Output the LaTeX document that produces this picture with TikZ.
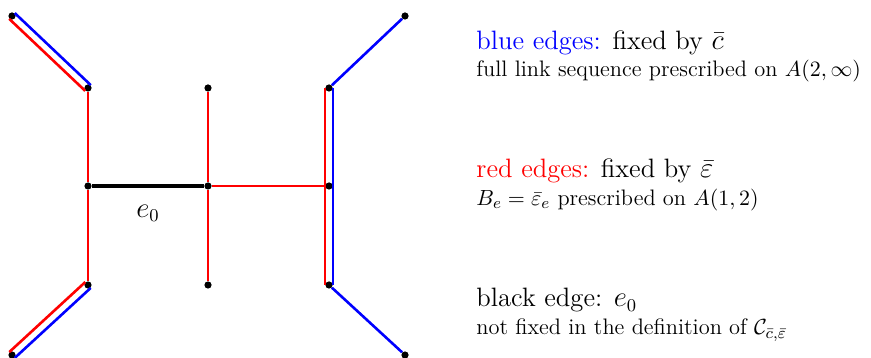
\documentclass[tikz,border=0pt]{standalone}
\usepackage{amsmath}
\usetikzlibrary{calc}

\begin{document}
\begin{tikzpicture}[
  x=0.5pt, y=0.5pt,
  vtx/.style={circle, fill, inner sep=0pt, minimum size=3.6pt},
  edge/.style={line width=1.3pt},
  heading/.style={anchor=base west, inner sep=0pt, font=\fontsize{13.3}{16}\selectfont},
  note/.style={anchor=base west, inner sep=0pt, font=\fontsize{11.2}{13}\selectfont}
]
\useasboundingbox (0,0) rectangle (871,358);
% vertices of the graph
\node[vtx] (tl) at (12,342) {};
\node[vtx] (l1) at (88,270) {};
\node[vtx] (l2) at (88,172) {};
\node[vtx] (l3) at (88,73) {};
\node[vtx] (bl) at (12,3) {};
\node[vtx] (m1) at (208,270) {};
\node[vtx] (m2) at (208,172) {};
\node[vtx] (m3) at (208,73) {};
\node[vtx] (r1) at (329,270) {};
\node[vtx] (r2) at (329,172) {};
\node[vtx] (r3) at (329,73) {};
\node[vtx] (tr) at (405,342) {};
\node[vtx] (br) at (405,3) {};

% red edges
\draw[edge, red] (l1) -- (l2) -- (l3);
\draw[edge, red] (m1) -- (m2) -- (m3);
\draw[edge, red] (m2) -- (r2);
% doubled edges (red and blue side by side)
\draw[edge, blue] ($(tl)!2pt!90:(l1)$) -- ($(l1)!2pt!-90:(tl)$);
\draw[edge, red] ($(tl)!2pt!-90:(l1)$) -- ($(l1)!2pt!90:(tl)$);
\draw[edge, red] ($(l3)!2pt!-90:(bl)$) -- ($(bl)!2pt!90:(l3)$);
\draw[edge, blue] ($(l3)!2pt!90:(bl)$) -- ($(bl)!2pt!-90:(l3)$);
\draw[edge, red] ($(r1)!2pt!-90:(r3)$) -- ($(r3)!2pt!90:(r1)$);
\draw[edge, blue] ($(r1)!2pt!90:(r3)$) -- ($(r3)!2pt!-90:(r1)$);
% blue edges
\draw[edge, blue] (r1) -- (tr);
\draw[edge, blue] (r3) -- (br);
% black edge
\draw[line width=1.9pt] (l2) -- (m2);
\node[font=\fontsize{13.3}{16}\selectfont] (elabel) at ($(l2)!0.5!(m2)+(0,-27)$) {$e_0$};

% legend
\node[heading] (bluetitle) at (476,308) {\textcolor{blue}{blue edges:} fixed by $\bar{c}$};
\node[note] (bluenote) at (476,281) {full link sequence prescribed on $A(2,\infty)$};
\node[heading] (redtitle) at (476,180) {\textcolor{red}{red edges:} fixed by $\bar{\varepsilon}$};
\node[note] (rednote) at (476,152.5) {$B_e=\bar{\varepsilon}_e$ prescribed on $A(1,2)$};
\node[heading] (blacktitle) at (476,51.3) {black edge: $e_0$};
\node[note] (blacknote) at (476,23) {not fixed in the definition of $\mathcal{C}_{\bar{c},\bar{\varepsilon}}$};
\end{tikzpicture}
\end{document}
